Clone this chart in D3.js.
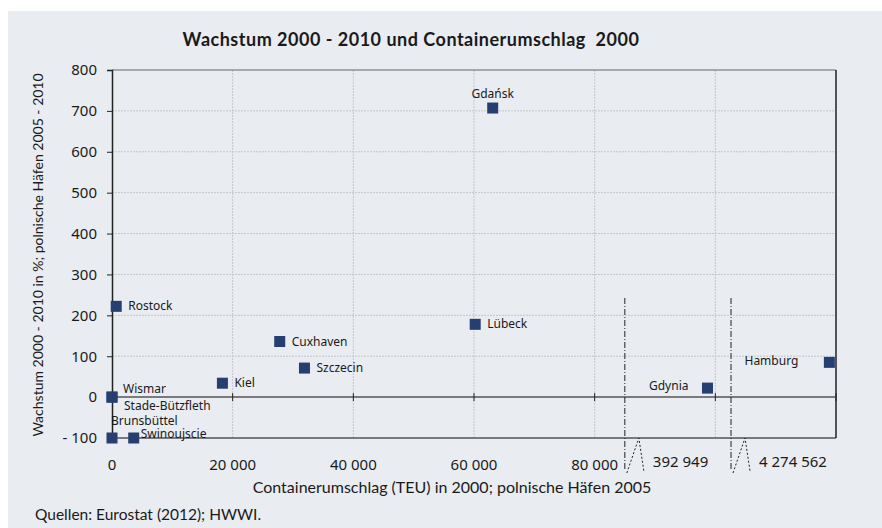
<!DOCTYPE html>
<html>
<head>
<meta charset="utf-8">
<script src="https://cdn.jsdelivr.net/npm/d3@7"></script>
<style>
  body { margin: 0; background: #fff; }
  svg text { fill: #1a1a1a; }
</style>
</head>
<body>
<div id="chart"></div>
<script>
// Ports, TEU 2000 (polish ports 2005) and growth 2000-2010 in %
var ports = ["Gdańsk", "Lübeck", "Rostock", "Wismar", "Stade-Bützfleth", "Brunsbüttel",
             "Swinoujscie", "Kiel", "Cuxhaven", "Szczecin", "Gdynia", "Hamburg"];
var teu = [63100, 60200, 700, 0, 0, 0, 3600, 18300, 27800, 31900, 392949, 4274562];
var growth = [707, 178, 222, 0, 0, -100, -100, 34, 136, 71, 22, 85];
var labelSide = ["top", "right", "right", "rightUp", "rightDown", "topStart",
                 "rightNear", "right", "right", "right", "left", "leftFar"];

var xTicks = [0, 20000, 40000, 60000, 80000];
var breakTicks = [392949, 4274562];
var yTicks = [-100, 0, 100, 200, 300, 400, 500, 600, 700, 800];

var width = 882, height = 528;
var margin = {top: 70, right: 46, bottom: 90, left: 112};

var svg = d3.select('#chart').append('svg').attr('width', width).attr('height', height)
    .style('font-family', '"Noto Sans", sans-serif');

svg.append('rect').attr('x', 8).attr('y', 11).attr('width', width - 8).attr('height', height - 11)
    .attr('fill', '#e9ecf1');

// axis units: 0..120000 where values beyond 80000 are squeezed behind the breaks
var x = d3.scaleLinear().domain([0, 120000]).range([margin.left, width - margin.right]);
var squeeze = d3.scaleLinear().domain([0, 80000, 392949, 4274562]).range([0, 80000, 98700, 118900]);
var breaks = [85000, 102600];
var y = d3.scaleLinear().domain([-100, 800]).range([height - margin.bottom, margin.top]);

var plot = svg.append('g');

// grid
plot.selectAll('line.hgrid')
    .data([100, 200, 300, 400, 500, 600, 700])
    .enter().append('line')
    .attr('x1', x(0)).attr('x2', x(120000))
    .attr('y1', function(d) { return y(d); }).attr('y2', function(d) { return y(d); })
    .attr('stroke', '#c4c6ca').attr('stroke-dasharray', '2,1');

plot.selectAll('line.vgrid')
    .data([20000, 40000, 60000, 80000, 100000])
    .enter().append('line')
    .attr('y1', y(800)).attr('y2', y(-100))
    .attr('x1', function(d) { return x(d); }).attr('x2', function(d) { return x(d); })
    .attr('stroke', '#c4c6ca').attr('stroke-dasharray', '2,1');

// frame lines
plot.append('line').attr('x1', x(0)).attr('x2', x(120000)).attr('y1', y(800)).attr('y2', y(800))
    .attr('stroke', '#666').attr('stroke-width', 1);
plot.append('line').attr('x1', x(0)).attr('x2', x(120000)).attr('y1', y(-100)).attr('y2', y(-100))
    .attr('stroke', '#555').attr('stroke-width', 1.5);
plot.append('line').attr('x1', x(120000)).attr('x2', x(120000)).attr('y1', y(800)).attr('y2', y(-100))
    .attr('stroke', '#222').attr('stroke-width', 1.5);

// zero line with ticks
plot.append('line').attr('x1', x(0)).attr('x2', x(120000)).attr('y1', y(0)).attr('y2', y(0))
    .attr('stroke', '#555').attr('stroke-width', 1.5);
plot.selectAll('line.xtick')
    .data([20000, 40000, 60000, 80000, 100000, 120000])
    .enter().append('line')
    .attr('x1', function(d) { return x(d); }).attr('x2', function(d) { return x(d); })
    .attr('y1', y(0) - 4).attr('y2', y(0) + 4)
    .attr('stroke', '#222').attr('stroke-width', 1);

// y axis
var yAxis = d3.axisLeft(y).tickValues(yTicks).tickSize(5).tickPadding(10)
    .tickFormat(function(d) { return d < 0 ? '- ' + Math.abs(d) : d; });
var gy = svg.append('g').attr('transform', 'translate(' + x(0) + ',0)').call(yAxis);
gy.select('.domain').attr('stroke', '#222').attr('stroke-width', 1.5);
gy.selectAll('.tick line').attr('stroke', '#222');
gy.selectAll('.tick text').style('font-size', '15px').style('font-family', '"Noto Sans", sans-serif')
    .attr('fill', '#1a1a1a');

// x tick labels (below the plot)
svg.selectAll('text.xlab')
    .data(xTicks)
    .enter().append('text')
    .attr('x', function(d) { return x(d); })
    .attr('y', y(-100) + 32)
    .attr('text-anchor', 'middle')
    .style('font-size', '15px')
    .text(function(d) { return d3.format(',')(d).replace(/,/g, ' '); });

svg.selectAll('text.blab')
    .data(breakTicks)
    .enter().append('text')
    .attr('x', function(d, i) { return x(breaks[i]) + 28; })
    .attr('y', y(-100) + 29)
    .style('font-size', '15px')
    .text(function(d) { return d3.format(',')(d).replace(/,/g, ' '); });

// axis breaks
breaks.forEach(function(b) {
    var bx = x(b);
    svg.append('line').attr('x1', bx).attr('x2', bx).attr('y1', 298).attr('y2', y(-100) + 32)
        .attr('stroke', '#222').attr('stroke-width', 1).attr('stroke-dasharray', '6,2,1,2');
    svg.append('path')
        .attr('d', d3.line()([[bx + 2, y(-100) + 35], [bx + 14, y(-100)], [bx + 19, y(-100) + 33]]))
        .attr('fill', 'none').attr('stroke', '#222').attr('stroke-width', 1).attr('stroke-dasharray', '2,2');
});

// points
var pts = ports.map(function(p, i) {
    return {name: p, x: x(squeeze(teu[i])), y: y(growth[i]), side: labelSide[i]};
});

svg.selectAll('rect.pt')
    .data(pts)
    .enter().append('rect')
    .attr('x', function(d) { return d.x - 5.5; })
    .attr('y', function(d) { return d.y - 5.5; })
    .attr('width', 11).attr('height', 11)
    .attr('fill', '#263f70');

var offs = {
    top: [0, -10, 'middle'], right: [12, 4, 'start'], left: [-19, 2, 'end'], leftFar: [-31, 3, 'end'],
    rightUp: [11, -4, 'start'], rightDown: [12, 13, 'start'], topStart: [-1, -13, 'start'],
    rightNear: [7, 0, 'start']
};
svg.selectAll('text.pl')
    .data(pts)
    .enter().append('text')
    .attr('x', function(d) { return d.x + offs[d.side][0]; })
    .attr('y', function(d) { return d.y + offs[d.side][1]; })
    .attr('text-anchor', function(d) { return offs[d.side][2]; })
    .style('font-size', '12px')
    .text(function(d) { return d.name; });

// titles
var calib = 'Lato, sans-serif';
svg.append('text').attr('x', 411).attr('y', 46).attr('text-anchor', 'middle')
    .style('font-family', calib).style('font-weight', 'bold').style('font-size', '18px')
    .style('letter-spacing', '0.5px').style('white-space', 'pre')
    .text('Wachstum 2000 - 2010 und Containerumschlag  2000');

svg.append('text').attr('x', 452).attr('y', 493).attr('text-anchor', 'middle')
    .style('font-family', calib).style('font-size', '16px')
    .text('Containerumschlag (TEU) in 2000; polnische Häfen 2005');

svg.append('text').attr('transform', 'translate(43,255) rotate(-90)').attr('text-anchor', 'middle')
    .style('font-family', calib).style('font-size', '14px')
    .text('Wachstum 2000 - 2010 in %; polnische Häfen 2005 - 2010');

svg.append('text').attr('x', 35).attr('y', 520)
    .style('font-family', calib).style('font-size', '15.5px')
    .text('Quellen: Eurostat (2012); HWWI.');
</script>
</body>
</html>
